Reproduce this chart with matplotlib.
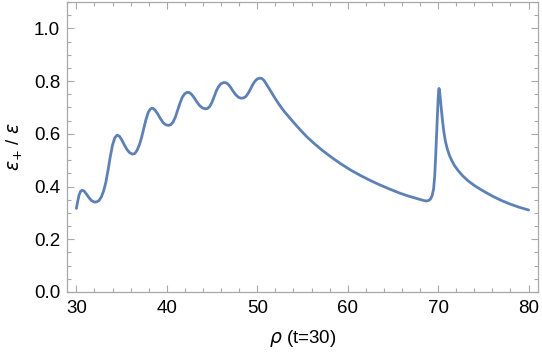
import matplotlib
matplotlib.use("Agg")
import matplotlib.pyplot as plt
from matplotlib.ticker import MultipleLocator

rho = [30.0, 30.15, 30.3, 30.45, 30.63, 30.85, 31.1, 31.4, 31.7, 32.0, 32.25, 32.5, 32.75,
       33.0, 33.25, 33.5, 33.75, 34.0, 34.25, 34.5, 34.75, 35.0, 35.3, 35.6, 35.9, 36.2,
       36.45, 36.7, 36.95, 37.2, 37.45, 37.7, 37.95, 38.2, 38.45, 38.7, 39.0, 39.3, 39.6,
       39.9, 40.2, 40.45, 40.7, 40.95, 41.2, 41.45, 41.7, 41.95, 42.2, 42.45, 42.7, 43.0,
       43.3, 43.6, 43.9, 44.2, 44.5, 44.75, 45.0, 45.25, 45.5, 45.75, 46.0, 46.25, 46.5,
       46.75, 47.0, 47.3, 47.6, 47.9, 48.2, 48.5, 48.75, 49.0, 49.25, 49.5, 49.75, 50.0,
       50.25, 50.5, 50.75, 51.0, 51.3, 51.6, 52.0, 52.5, 53.0, 53.5, 54.0, 54.75, 55.5,
       56.3, 57.2, 58.2, 59.2, 60.3, 61.4, 62.5, 63.5, 64.6, 65.6, 66.6, 67.6, 68.3, 68.7,
       69.0, 69.2, 69.35, 69.5, 69.62, 69.72, 69.82, 69.92, 70.0, 70.06, 70.1, 70.15,
       70.22, 70.32, 70.45, 70.6, 70.8, 71.0, 71.25, 71.5, 71.8, 72.2, 72.7, 73.3, 74.0,
       74.7, 75.4, 76.15, 77.0, 78.0, 79.0, 80.0]
ratio = [0.317, 0.345, 0.368, 0.381, 0.386, 0.383, 0.372, 0.357, 0.346, 0.341, 0.342, 0.347, 0.360,
         0.382, 0.415, 0.462, 0.514, 0.558, 0.585, 0.595, 0.591, 0.578, 0.558, 0.540, 0.528, 0.523,
         0.525, 0.537, 0.557, 0.585, 0.620, 0.655, 0.682, 0.695, 0.697, 0.690, 0.675, 0.657, 0.642,
         0.634, 0.632, 0.635, 0.645, 0.664, 0.690, 0.716, 0.738, 0.751, 0.757, 0.757, 0.751, 0.738,
         0.722, 0.708, 0.699, 0.695, 0.696, 0.704, 0.720, 0.743, 0.765, 0.781, 0.790, 0.794, 0.794,
         0.789, 0.779, 0.763, 0.749, 0.739, 0.735, 0.736, 0.742, 0.754, 0.770, 0.787, 0.800, 0.808,
         0.811, 0.810, 0.802, 0.789, 0.772, 0.755, 0.733, 0.707, 0.684, 0.664, 0.644, 0.615, 0.588,
         0.563, 0.537, 0.511, 0.487, 0.463, 0.442, 0.423, 0.407, 0.391, 0.377, 0.365, 0.355, 0.348, 0.345,
         0.348, 0.355, 0.367, 0.392, 0.440, 0.510, 0.590, 0.670, 0.735, 0.765, 0.772, 0.765,
         0.740, 0.705, 0.660, 0.615, 0.572, 0.544, 0.518, 0.499, 0.480, 0.461, 0.441, 0.422, 0.404,
         0.389, 0.375, 0.361, 0.347, 0.333, 0.321, 0.311]

xticks = [30, 40, 50, 60, 70, 80]
yticks = [0.0, 0.2, 0.4, 0.6, 0.8, 1.0]
ytick_labels = ["0.0", "0.2", "0.4", "0.6", "0.8", "1.0"]

plt.rcParams['font.family'] = ['Liberation Sans', 'DejaVu Sans']
plt.rcParams['mathtext.fontset'] = 'dejavusans'

fig = plt.figure(figsize=(5.42, 3.55), dpi=100)
ax = fig.add_axes([0.1236, 0.1775, 0.8690, 0.8169])
ax.plot(rho, ratio, color='#5E81B5', lw=2.0, solid_joinstyle='round', solid_capstyle='round')
ax.set_xlim(28.96, 81.04)
ax.set_ylim(0, 1.1)
ax.set_xticks(xticks)
ax.set_yticks(yticks)
ax.set_yticklabels(ytick_labels)
ax.xaxis.set_minor_locator(MultipleLocator(2))
ax.yaxis.set_minor_locator(MultipleLocator(0.05))
frame_col = '#a8a8a8'
for s in ax.spines.values():
    s.set_color(frame_col)
    s.set_linewidth(0.9)
ax.tick_params(which='both', direction='in', top=True, right=True, color=frame_col,
               width=0.8, labelsize=13.5, labelcolor='black')
ax.tick_params(which='major', length=5, pad=5)
ax.tick_params(which='minor', length=3)
ax.tick_params(axis='x', which='major', pad=6)
ax.set_xlabel(r'$\rho$ (t=30)', fontsize=13.5, labelpad=8)
ax.set_ylabel(r'$\epsilon_{+}$ / $\epsilon$', fontsize=13.5, labelpad=6)
fig.savefig('out.png', dpi=100)
